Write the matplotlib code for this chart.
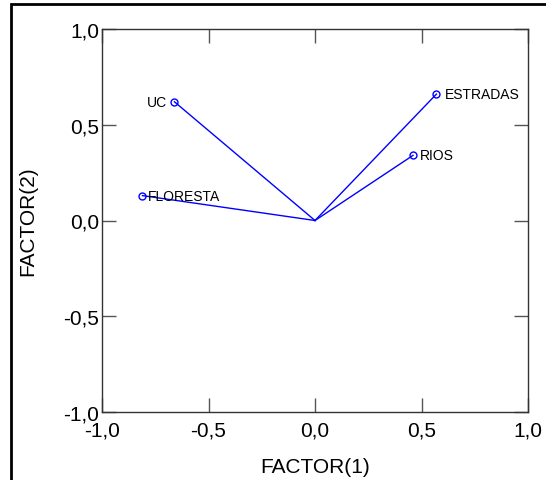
import matplotlib
matplotlib.use("Agg")
import matplotlib.pyplot as plt

plt.rcParams['font.family'] = ['Liberation Sans', 'DejaVu Sans']

# Cargas de las variables en los dos primeros factores
variaveis = ['UC', 'FLORESTA', 'ESTRADAS', 'RIOS']
fator1 = [-0.66, -0.81, 0.57, 0.46]
fator2 = [0.62, 0.13, 0.66, 0.34]

ticks = [-1.0, -0.5, 0.0, 0.5, 1.0]
tick_labels = ['-1,0', '-0,5', '0,0', '0,5', '1,0']

fig = plt.figure(figsize=(5.46, 4.81), dpi=100)
ax = fig.add_axes([102 / 546, 68 / 481, 426 / 546, 383 / 481])

# Vetores desde a origem
for x, y in zip(fator1, fator2):
    ax.plot([0, x], [0, y], color='#0000ff', lw=1)
ax.plot(fator1, fator2, 'o', ms=5, mfc='none', mec='#0000ff', mew=1)

offsets = {'UC': (-5, 0, 'right'), 'FLORESTA': (4, 0, 'left'),
           'ESTRADAS': (6, 0, 'left'), 'RIOS': (5, 0, 'left')}
for nome, x, y in zip(variaveis, fator1, fator2):
    dx, dy, ha = offsets[nome]
    ax.annotate(nome, (x, y), xytext=(dx, dy), textcoords='offset points',
                ha=ha, va='center', fontsize=10)

ax.set_xlim(-1, 1)
ax.set_ylim(-1, 1)
ax.set_xticks(ticks)
ax.set_yticks(ticks)
ax.set_xticklabels(tick_labels)
ax.set_yticklabels(tick_labels)
ax.tick_params(direction='in', length=10, width=1, color='#555555',
               top=True, right=True, labelsize=15)
ax.tick_params(axis='x', pad=6)
ax.tick_params(axis='y', pad=2)
for lado in ax.spines.values():
    lado.set_linewidth(1)
    lado.set_color('#333333')

ax.set_xlabel('FACTOR(1)', fontsize=15, labelpad=13)
ax.set_ylabel('FACTOR(2)', fontsize=15, labelpad=19)

# Moldura externa
fig.add_artist(plt.Rectangle((11 / 546, -0.1), 1.2, 1.1 - 5 / 481,
                             transform=fig.transFigure, fill=False,
                             lw=2, color='black'))

fig.savefig('out.png', dpi=100)
